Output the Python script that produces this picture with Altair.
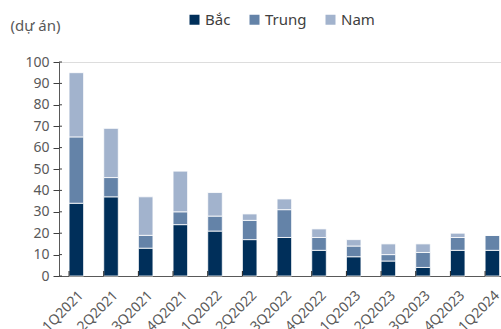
import altair as alt
import pandas as pd

quarters = ["1Q2021", "2Q2021", "3Q2021", "4Q2021", "1Q2022", "2Q2022", "3Q2022",
            "4Q2022", "1Q2023", "2Q2023", "3Q2023", "4Q2023", "1Q2024"]
bac = [34, 37, 13, 24, 21, 17, 18, 12, 9, 7, 4, 12, 12]
trung = [31, 9, 6, 6, 7, 9, 13, 6, 5, 3, 7, 6, 7]
nam = [30, 23, 18, 19, 11, 3, 5, 4, 3, 5, 4, 2, 0]
series = ["Bắc", "Trung", "Nam"]
colors = ["#002F5A", "#6483A8", "#A2B3CD"]
y_ticks = list(range(0, 101, 10))

rows = []
for i, q in enumerate(quarters):
    for k, (s, vals) in enumerate(zip(series, [bac, trung, nam])):
        rows.append({"q": q, "region": s, "v": vals[i], "order": k})
df = pd.DataFrame(rows)
qdf = pd.DataFrame({"q": quarters})
ydf = pd.DataFrame({"t": y_ticks})

FONT = "Noto Sans"
TXT = "#595959"
W, H = 442, 214
xscale = alt.Scale(domain=quarters, range=[0, 450.7], paddingInner=0.58, paddingOuter=0.29)
yscale = alt.Scale(domain=[0, 100], nice=False)

xaxis = alt.Axis(title=None, labelAngle=-45, ticks=False, labelFontSize=14,
                 labelColor=TXT, labelFont=FONT, domainColor="#595959",
                 labelPadding=12, labelAlign="right", labelBaseline="top",
                 labelOverlap=False)
yaxis = alt.Axis(values=y_ticks, title="(dự án)", titleAngle=0, titleAlign="left",
                 titleBaseline="middle", titleX=-49, titleY=-37, titleFont=FONT,
                 titleFontSize=15, titleFontWeight="normal", titleColor=TXT,
                 labelFont=FONT, labelFontSize=14, labelColor=TXT,
                 labelOverlap=False,
                 tickColor="#404040", tickSize=6, domainColor="#595959",
                 grid=False, labelPadding=4)

bars = alt.Chart(df).mark_bar(stroke="white", strokeWidth=0.8).encode(
    x=alt.X("q:N", scale=xscale, sort=quarters, axis=xaxis),
    y=alt.Y("v:Q", stack="zero", scale=yscale, axis=yaxis),
    color=alt.Color("region:N", sort=series, scale=alt.Scale(domain=series, range=colors),
                    legend=alt.Legend(title=None, orient="none", direction="horizontal",
                                      legendX=128, legendY=-50, symbolType="square",
                                      symbolSize=100, symbolStrokeWidth=0, labelFont=FONT,
                                      labelFontSize=15, labelColor="#404040",
                                      symbolOpacity=1, labelOffset=3, columnPadding=16)),
    order=alt.Order("order:Q"),
)

xticks = alt.Chart(qdf).mark_rule(color="#202020", strokeWidth=1).encode(
    x=alt.X("q:N", scale=xscale, sort=quarters, bandPosition=0, axis=xaxis),
    y=alt.value(H - 5),
    y2=alt.value(H),
)

yticks_in = alt.Chart(ydf).mark_rule(color="#404040", strokeWidth=1).encode(
    y=alt.Y("t:Q", scale=yscale, axis=yaxis),
    x=alt.value(0),
    x2=alt.value(3),
)

chart = alt.layer(bars, xticks, yticks_in).properties(
    width=W, height=H,
    autosize=alt.AutoSizeParams(type="none"),
    padding={"left": 59, "top": 62, "right": 0, "bottom": 53},
).configure_view(stroke=None).configure(background="white")

chart.save("out.html", embed_options={"renderer": "svg", "actions": False})
